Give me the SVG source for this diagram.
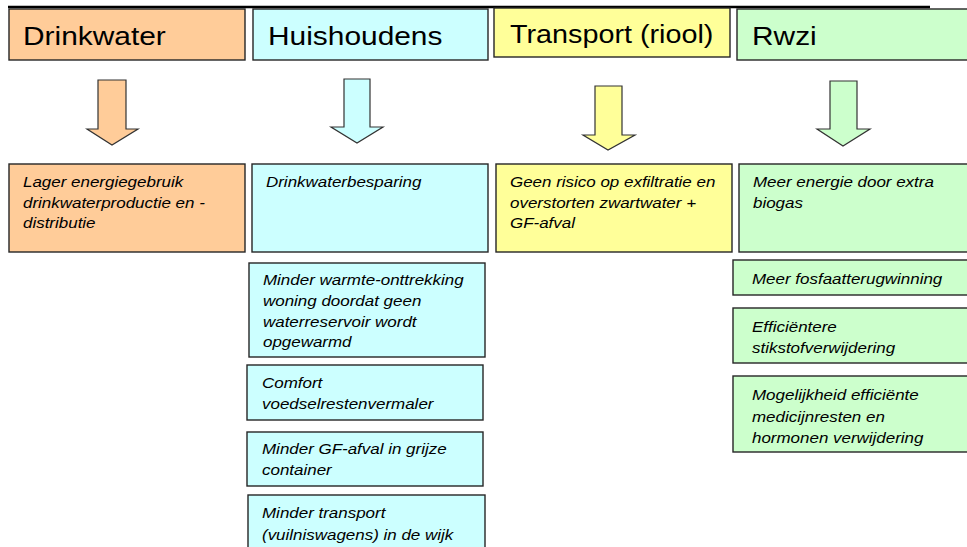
<svg xmlns="http://www.w3.org/2000/svg" width="967" height="547" viewBox="0 0 967 547">
  <style>
    .box { stroke: #262626; stroke-width: 1.4; }
    .arrow { stroke: #333; stroke-width: 1.2; stroke-linejoin: miter; }
    .orange { fill: #FFCC99; }
    .cyan { fill: #CCFFFF; }
    .yellow { fill: #FFFF99; }
    .green { fill: #CCFFCC; }
    text { transform-box: fill-box; transform-origin: left center; }
    .head { font-family: "Liberation Sans", Arial, sans-serif; font-size: 26px; fill: #000; transform: scaleX(1.15); }
    .item { font-family: "Liberation Sans", Arial, sans-serif; font-size: 14.5px; font-style: italic; fill: #000; transform: scaleX(1.17); }
  </style>
  <rect width="967" height="547" fill="#fff"/>

  <!-- top rule -->
  <line x1="8" y1="7" x2="930" y2="7" stroke="#000" stroke-width="2.5"/>

  <!-- column headers -->
  <g id="hdr-drinkwater">
    <rect class="box orange" x="9" y="9" width="236" height="51"/>
    <text class="head" x="23" y="45">Drinkwater</text>
  </g>
  <g id="hdr-huishoudens">
    <rect class="box cyan" x="253" y="9" width="235" height="51"/>
    <text class="head" x="268" y="45">Huishoudens</text>
  </g>
  <g id="hdr-transport">
    <rect class="box yellow" x="494" y="8" width="236" height="49"/>
    <text class="head" x="510" y="43" style="font-size:25px">Transport (riool)</text>
  </g>
  <g id="hdr-rwzi">
    <rect class="box green" x="737" y="9" width="240" height="51"/>
    <text class="head" x="752" y="45">Rwzi</text>
  </g>

  <!-- down arrows -->
  <g id="connectors">
    <path class="arrow orange" d="M98,80 H126 V129 H138 L112,145 L87,129 H98 Z"/>
    <path class="arrow cyan" d="M344,79 H370 V127 H383 L357,143 L331,127 H344 Z"/>
    <path class="arrow yellow" d="M595,86 H622 V135 H635 L608,150 L583,135 H595 Z"/>
    <path class="arrow green" d="M830,81 H857 V129 H870 L843,146 L817,129 H830 Z"/>
  </g>

  <!-- first row of items -->
  <g id="drinkwater-1">
    <rect class="box orange" x="9" y="164" width="236" height="88"/>
    <text class="item" x="23" y="187">Lager energiegebruik</text>
    <text class="item" x="23" y="208">drinkwaterproductie en -</text>
    <text class="item" x="23" y="228">distributie</text>
  </g>
  <g id="huishoudens-1">
    <rect class="box cyan" x="252" y="164" width="236" height="88"/>
    <text class="item" x="266" y="187">Drinkwaterbesparing</text>
  </g>
  <g id="transport-1">
    <rect class="box yellow" x="496" y="164" width="236" height="88"/>
    <text class="item" x="510" y="187">Geen risico op exfiltratie en</text>
    <text class="item" x="510" y="208">overstorten zwartwater +</text>
    <text class="item" x="510" y="228">GF-afval</text>
  </g>
  <g id="rwzi-1">
    <rect class="box green" x="739" y="164" width="240" height="88"/>
    <text class="item" x="753" y="187">Meer energie door extra</text>
    <text class="item" x="753" y="208">biogas</text>
  </g>

  <!-- further household items -->
  <g id="huishoudens-2">
    <rect class="box cyan" x="249" y="263" width="236" height="94"/>
    <text class="item" x="263" y="285">Minder warmte-onttrekking</text>
    <text class="item" x="263" y="306">woning doordat geen</text>
    <text class="item" x="263" y="327">waterreservoir wordt</text>
    <text class="item" x="263" y="347">opgewarmd</text>
  </g>
  <g id="huishoudens-3">
    <rect class="box cyan" x="247" y="365" width="236" height="55"/>
    <text class="item" x="262" y="388">Comfort</text>
    <text class="item" x="262" y="409">voedselrestenvermaler</text>
  </g>
  <g id="huishoudens-4">
    <rect class="box cyan" x="247" y="432" width="236" height="54"/>
    <text class="item" x="262" y="454">Minder GF-afval in grijze</text>
    <text class="item" x="262" y="475">container</text>
  </g>
  <g id="huishoudens-5">
    <rect class="box cyan" x="248" y="495" width="237" height="60"/>
    <text class="item" x="262" y="518">Minder transport</text>
    <text class="item" x="262" y="540">(vuilniswagens) in de wijk</text>
  </g>

  <!-- further rwzi items -->
  <g id="rwzi-2">
    <rect class="box green" x="733" y="260" width="245" height="35"/>
    <text class="item" x="752" y="284">Meer fosfaatterugwinning</text>
  </g>
  <g id="rwzi-3">
    <rect class="box green" x="733" y="308" width="245" height="55"/>
    <text class="item" x="752" y="332">Efficiëntere</text>
    <text class="item" x="752" y="353">stikstofverwijdering</text>
  </g>
  <g id="rwzi-4">
    <rect class="box green" x="733" y="376" width="245" height="76"/>
    <text class="item" x="752" y="400">Mogelijkheid efficiënte</text>
    <text class="item" x="752" y="422">medicijnresten en</text>
    <text class="item" x="752" y="443">hormonen verwijdering</text>
  </g>
</svg>
